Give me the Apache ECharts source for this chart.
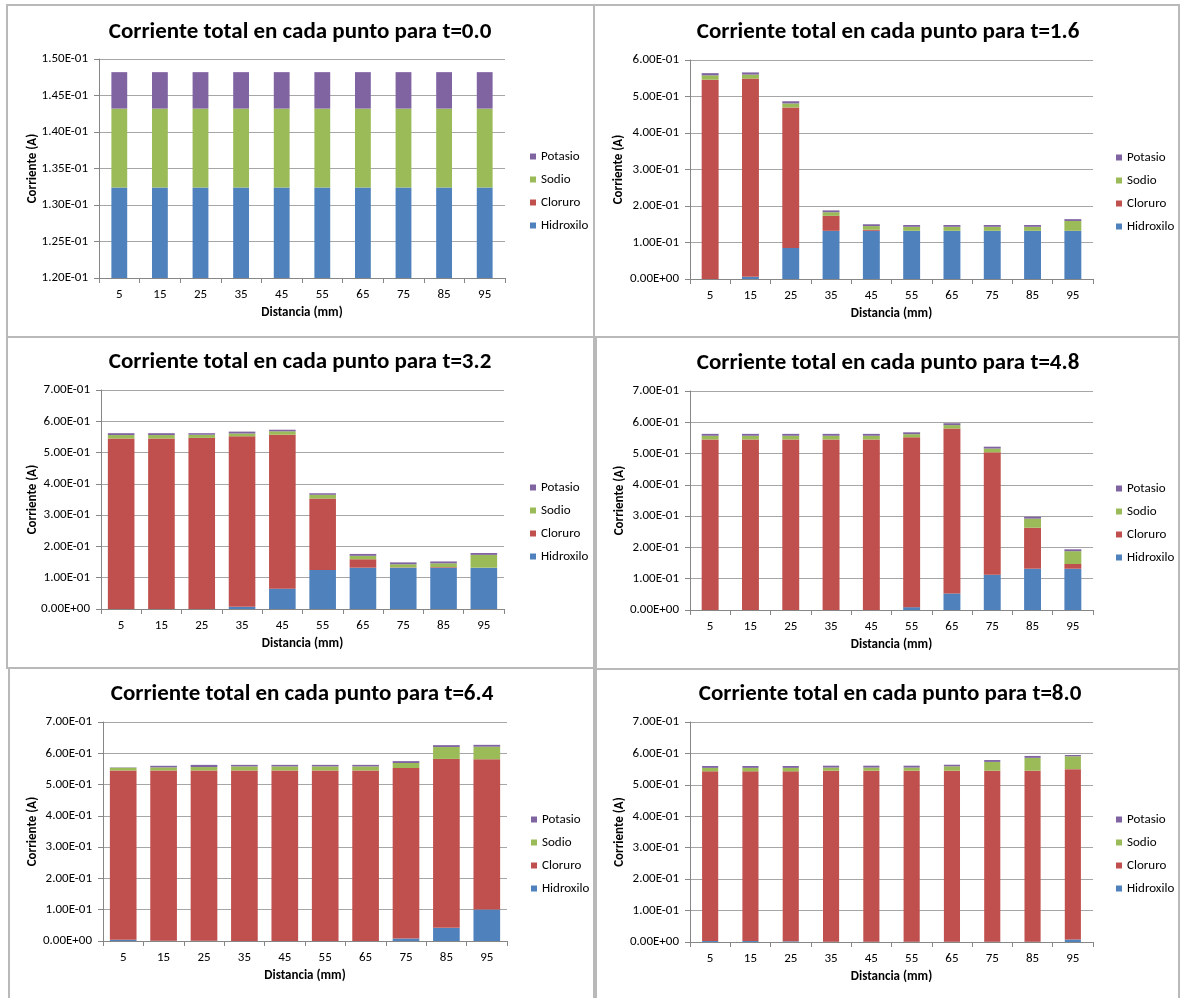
<!DOCTYPE html>
<html>
<head>
<meta charset="utf-8">
<title>Corriente total en cada punto</title>
<script src="https://cdn.jsdelivr.net/npm/echarts@6/dist/echarts.min.js"></script>
<style>
  html, body { margin: 0; padding: 0; background: #ffffff; }
  #chart { width: 1181px; height: 998px; }
</style>
</head>
<body>
<div id="chart"></div>
<script>
// Distance points along the cell (mm)
const distancias = ['5', '15', '25', '35', '45', '55', '65', '75', '85', '95'];
// Time instants, one panel each
const tiempos = ['0.0', '1.6', '3.2', '4.8', '6.4', '8.0'];
const especies = ['Hidroxilo', 'Cloruro', 'Sodio', 'Potasio'];
const ordenLeyenda = ['Potasio', 'Sodio', 'Cloruro', 'Hidroxilo'];

// Current carried by each ion (A), one row per time instant
const hidroxilo = [
  [0.1324, 0.1324, 0.1324, 0.1324, 0.1324, 0.1324, 0.1324, 0.1324, 0.1324, 0.1324],
  [0.000, 0.006, 0.085, 0.132, 0.132, 0.132, 0.132, 0.132, 0.132, 0.132],
  [0.000, 0.000, 0.000, 0.007, 0.065, 0.125, 0.132, 0.132, 0.132, 0.132],
  [0.000, 0.000, 0.000, 0.000, 0.000, 0.009, 0.053, 0.113, 0.132, 0.132],
  [0.004, 0.001, 0.001, 0.000, 0.000, 0.000, 0.000, 0.008, 0.042, 0.101],
  [0.003, 0.003, 0.002, 0.001, 0.001, 0.001, 0.001, 0.001, 0.001, 0.008]
];
const cloruro = [
  [0, 0, 0, 0, 0, 0, 0, 0, 0, 0],
  [0.546, 0.543, 0.385, 0.041, 0.003, 0.000, 0.000, 0.000, 0.000, 0.000],
  [0.545, 0.545, 0.547, 0.545, 0.492, 0.228, 0.027, 0.001, 0.002, 0.000],
  [0.545, 0.545, 0.545, 0.545, 0.545, 0.543, 0.527, 0.391, 0.131, 0.015],
  [0.541, 0.544, 0.544, 0.545, 0.545, 0.545, 0.545, 0.545, 0.540, 0.480],
  [0.540, 0.540, 0.541, 0.544, 0.544, 0.544, 0.544, 0.544, 0.544, 0.542]
];
const sodio = [
  [0.0108, 0.0108, 0.0108, 0.0108, 0.0108, 0.0108, 0.0108, 0.0108, 0.0108, 0.0108],
  [0.012, 0.011, 0.011, 0.010, 0.010, 0.011, 0.011, 0.011, 0.011, 0.027],
  [0.011, 0.011, 0.010, 0.009, 0.011, 0.012, 0.011, 0.010, 0.012, 0.041],
  [0.012, 0.012, 0.012, 0.012, 0.012, 0.010, 0.011, 0.012, 0.029, 0.041],
  [0.009, 0.010, 0.011, 0.013, 0.013, 0.013, 0.013, 0.016, 0.038, 0.040],
  [0.011, 0.011, 0.011, 0.010, 0.010, 0.010, 0.014, 0.028, 0.041, 0.041]
];
const potasio = [
  [0.0050, 0.0050, 0.0050, 0.0050, 0.0050, 0.0050, 0.0050, 0.0050, 0.0050, 0.0050],
  [0.006, 0.006, 0.006, 0.005, 0.005, 0.005, 0.005, 0.005, 0.005, 0.005],
  [0.006, 0.006, 0.005, 0.006, 0.005, 0.005, 0.006, 0.006, 0.006, 0.006],
  [0.006, 0.006, 0.006, 0.006, 0.006, 0.006, 0.006, 0.006, 0.006, 0.006],
  [0.001, 0.005, 0.007, 0.005, 0.005, 0.005, 0.005, 0.006, 0.006, 0.006],
  [0.006, 0.006, 0.006, 0.006, 0.006, 0.006, 0.005, 0.006, 0.006, 0.004]
];
// Value axis ranges per panel: [min, max, step]
const ejesY = [
  [0.12, 0.15, 0.005],
  [0, 0.6, 0.1],
  [0, 0.7, 0.1],
  [0, 0.7, 0.1],
  [0, 0.7, 0.1],
  [0, 0.7, 0.1]
];

const valores = { Hidroxilo: hidroxilo, Cloruro: cloruro, Sodio: sodio, Potasio: potasio };
const colores = { Hidroxilo: '#4F81BD', Cloruro: '#C0504D', Sodio: '#9BBB59', Potasio: '#8064A2' };

// Panel geometry: frame box, plot box, title position, legend position, bar width
const paneles = [
  { frame: [7, 5, 587, 332],   plot: [99, 59, 406, 219],  titleX: 300, titleY: 32,  yNameX: 33,  legX: 530,  legY: 149, bar: '39%' },
  { frame: [594, 5, 585, 332], plot: [690, 60, 403, 219], titleX: 888, titleY: 32,  yNameX: 619, legX: 1116, legY: 150, bar: '42%' },
  { frame: [7, 337, 587, 331], plot: [101, 390, 403, 219], titleX: 300, titleY: 362, yNameX: 33,  legX: 530,  legY: 480, bar: '66%' },
  { frame: [596, 337, 583, 332], plot: [690, 391, 403, 219], titleX: 888, titleY: 363, yNameX: 620, legX: 1116, legY: 481, bar: '42%' },
  { frame: [9, 668, 585, 340], plot: [103, 722, 404, 219], titleX: 302, titleY: 694, yNameX: 33,  legX: 531,  legY: 812, bar: '66%' },
  { frame: [596, 669, 583, 340], plot: [690, 722, 403, 220], titleX: 890, titleY: 694, yNameX: 620, legX: 1116, legY: 812, bar: '40%' }
];

const FUENTE = 'Carlito, Lato, "Open Sans", sans-serif';

function cientifico(v) {
  if (Math.abs(v) < 1e-12) return '0.00E+00';
  let e = Math.floor(Math.log10(Math.abs(v)) + 1e-9);
  let m = v / Math.pow(10, e);
  if (Math.abs(m) >= 9.995) { m /= 10; e += 1; }
  return m.toFixed(2) + 'E' + (e < 0 ? '-' : '+') + String(Math.abs(e)).padStart(2, '0');
}

const grid = [], xAxis = [], yAxis = [], legend = [], series = [], graphic = [];

paneles.forEach((p, i) => {
  const [fx, fy, fw, fh] = p.frame;
  const [gx, gy, gw, gh] = p.plot;
  const [ymin, ymax, ystep] = ejesY[i];

  graphic.push({
    type: 'rect', silent: true, z: 0,
    shape: { x: fx, y: fy, width: fw, height: fh },
    style: { fill: 'none', stroke: '#b9b9b9', lineWidth: 2 }
  });
  graphic.push({
    type: 'text', silent: true, x: p.titleX, y: p.titleY,
    style: { text: 'Corriente total en cada punto para t=' + tiempos[i], font: 'bold 23px ' + FUENTE, fill: '#000', align: 'center', verticalAlign: 'middle' }
  });
  graphic.push({
    type: 'text', silent: true, x: gx + gw / 2, y: gy + gh + 35,
    style: { text: 'Distancia (mm)', font: 'bold 13px ' + FUENTE, fill: '#000', align: 'center', verticalAlign: 'middle' }
  });
  graphic.push({
    type: 'text', silent: true, x: p.yNameX, y: gy + gh / 2, rotation: Math.PI / 2,
    style: { text: 'Corriente (A)', font: 'bold 13px ' + FUENTE, fill: '#000', align: 'center', verticalAlign: 'middle' }
  });

  grid.push({ left: gx, top: gy, width: gw, height: gh, containLabel: false });

  xAxis.push({
    type: 'category', gridIndex: i, data: distancias,
    axisLine: { lineStyle: { color: '#868686', width: 1 } },
    axisTick: { show: true, length: 5, inside: false, lineStyle: { color: '#868686' } },
    axisLabel: { color: '#000', fontSize: 13, fontFamily: FUENTE, margin: 10 },
    splitLine: { show: false }
  });

  yAxis.push({
    type: 'value', gridIndex: i, min: ymin, max: ymax, interval: ystep,
    axisLine: { show: true, lineStyle: { color: '#868686', width: 1 } },
    axisTick: { show: true, length: 5, inside: false, lineStyle: { color: '#868686' } },
    axisLabel: { color: '#000', fontSize: 13, fontFamily: FUENTE, margin: 11, formatter: cientifico },
    splitLine: { show: true, lineStyle: { color: '#a6a6a6', width: 1 } }
  });

  legend.push({
    orient: 'vertical', left: p.legX, top: p.legY, padding: 0,
    data: ordenLeyenda, icon: 'rect', itemWidth: 6, itemHeight: 6, itemGap: 8,
    selectedMode: false,
    textStyle: { color: '#000', fontSize: 13, fontFamily: FUENTE, lineHeight: 15 }
  });

  especies.forEach(nombre => {
    series.push({
      type: 'bar', name: nombre, xAxisIndex: i, yAxisIndex: i,
      stack: 'total' + i, barWidth: p.bar, clip: true,
      itemStyle: { color: colores[nombre] },
      emphasis: { disabled: true },
      data: valores[nombre][i]
    });
  });
});

const chart = echarts.init(document.getElementById('chart'), null, { renderer: 'canvas' });
chart.setOption({
  backgroundColor: '#ffffff',
  animation: false,
  grid, xAxis, yAxis, legend, series, graphic
});
</script>
</body>
</html>
